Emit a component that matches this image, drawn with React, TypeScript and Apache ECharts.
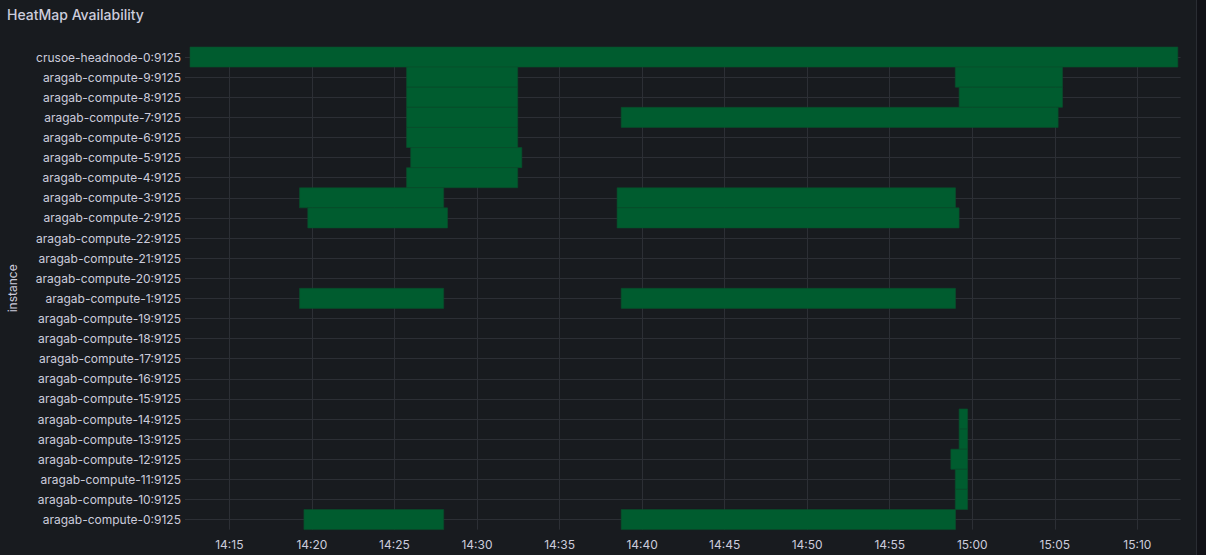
import React, { useEffect, useRef } from "react";
import * as echarts from "echarts";

// Instances, top to bottom as shown
const instances: string[] = [
  "crusoe-headnode-0:9125",
  "aragab-compute-9:9125",
  "aragab-compute-8:9125",
  "aragab-compute-7:9125",
  "aragab-compute-6:9125",
  "aragab-compute-5:9125",
  "aragab-compute-4:9125",
  "aragab-compute-3:9125",
  "aragab-compute-2:9125",
  "aragab-compute-22:9125",
  "aragab-compute-21:9125",
  "aragab-compute-20:9125",
  "aragab-compute-1:9125",
  "aragab-compute-19:9125",
  "aragab-compute-18:9125",
  "aragab-compute-17:9125",
  "aragab-compute-16:9125",
  "aragab-compute-15:9125",
  "aragab-compute-14:9125",
  "aragab-compute-13:9125",
  "aragab-compute-12:9125",
  "aragab-compute-11:9125",
  "aragab-compute-10:9125",
  "aragab-compute-0:9125",
];

// Availability intervals: [instance, start, end]
const upIntervals: [string, string, string][] = [
  ["crusoe-headnode-0:9125", "14:12:37", "15:12:27"],
  ["aragab-compute-9:9125", "14:25:44", "14:32:28"],
  ["aragab-compute-9:9125", "14:58:58", "15:05:28"],
  ["aragab-compute-8:9125", "14:25:44", "14:32:28"],
  ["aragab-compute-8:9125", "14:59:12", "15:05:28"],
  ["aragab-compute-7:9125", "14:25:44", "14:32:28"],
  ["aragab-compute-7:9125", "14:38:44", "15:05:12"],
  ["aragab-compute-6:9125", "14:25:44", "14:32:28"],
  ["aragab-compute-5:9125", "14:25:59", "14:32:43"],
  ["aragab-compute-4:9125", "14:25:44", "14:32:28"],
  ["aragab-compute-3:9125", "14:19:15", "14:27:59"],
  ["aragab-compute-3:9125", "14:38:29", "14:58:59"],
  ["aragab-compute-2:9125", "14:19:45", "14:28:13"],
  ["aragab-compute-2:9125", "14:38:29", "14:59:12"],
  ["aragab-compute-1:9125", "14:19:15", "14:27:59"],
  ["aragab-compute-1:9125", "14:38:44", "14:58:59"],
  ["aragab-compute-14:9125", "14:59:12", "14:59:43"],
  ["aragab-compute-13:9125", "14:59:12", "14:59:43"],
  ["aragab-compute-12:9125", "14:58:42", "14:59:43"],
  ["aragab-compute-11:9125", "14:58:58", "14:59:43"],
  ["aragab-compute-10:9125", "14:58:58", "14:59:43"],
  ["aragab-compute-0:9125", "14:19:31", "14:27:59"],
  ["aragab-compute-0:9125", "14:38:44", "14:58:59"],
];

const timeRange: [string, string] = ["14:12:37", "15:12:37"];
const tickTimes: string[] = [
  "14:15", "14:20", "14:25", "14:30", "14:35", "14:40",
  "14:45", "14:50", "14:55", "15:00", "15:05", "15:10",
];

// seconds since midnight
const toSec = (s: string): number => {
  const [h, m, sec] = s.split(":").map(Number);
  return h * 3600 + m * 60 + (sec || 0);
};

const pad = (n: number) => (n < 10 ? "0" + n : "" + n);
const fmt = (v: number) => {
  const h = Math.floor(v / 3600);
  const m = Math.round((v - h * 3600) / 60);
  return pad(h) + ":" + pad(m);
};

export default function App() {
  const ref = useRef<HTMLDivElement>(null);

  useEffect(() => {
    if (!ref.current) return;
    const chart = echarts.init(ref.current, null, { renderer: "svg" });
    const font = "Inter, 'Noto Sans', sans-serif";
    const textColor = "#ccccdc";
    const gridColor = "#2c2f35";

    const data = upIntervals.map(([inst, s, e]) => [
      instances.indexOf(inst),
      toSec(s),
      toSec(e),
    ]);
    const ticks = tickTimes.map((t) => toSec(t));

    chart.setOption({
      animation: false,
      backgroundColor: "#181b1f",
      title: {
        text: "HeatMap Availability",
        left: 2,
        top: 2,
        textStyle: {
          color: textColor,
          fontSize: 14,
          fontWeight: 500,
          fontFamily: font,
        },
      },
      graphic: [
        {
          type: "line",
          shape: { x1: 1196.5, y1: 0, x2: 1196.5, y2: 555 },
          style: { stroke: "#2a2d33", lineWidth: 1 },
          silent: true,
        },
        {
          type: "rect",
          shape: { x: 1197, y: 0, width: 9, height: 555 },
          style: { fill: "#111217" },
          silent: true,
        },
      ],
      grid: {
        left: 190,
        top: 47,
        right: 25.4,
        bottom: 25.4,
        containLabel: false,
        outerBoundsMode: "none",
      },
      xAxis: {
        type: "value",
        min: toSec(timeRange[0]),
        max: toSec(timeRange[1]),
        axisLine: { show: false },
        axisTick: { show: false, customValues: ticks },
        splitLine: { show: true, lineStyle: { color: gridColor, width: 1 } },
        axisLabel: {
          customValues: ticks,
          color: textColor,
          fontSize: 12,
          fontFamily: font,
          margin: 9,
          hideOverlap: false,
          showMinLabel: true,
          showMaxLabel: true,
          formatter: (v: number) => fmt(v),
        },
      },
      yAxis: {
        type: "category",
        data: instances,
        inverse: true,
        name: "instance",
        nameLocation: "middle",
        nameGap: 172,
        nameRotate: 90,
        nameTextStyle: { color: textColor, fontSize: 12, fontFamily: font },
        axisLine: { show: false },
        axisTick: {
          show: true,
          alignWithLabel: true,
          length: 5,
          lineStyle: { color: gridColor },
        },
        splitLine: {
          show: true,
          alignWithLabel: true,
          lineStyle: { color: gridColor, width: 1 },
        },
        axisLabel: {
          color: textColor,
          fontSize: 12,
          fontFamily: font,
          margin: 9,
          interval: 0,
        },
      },
      series: [
        {
          type: "custom",
          encode: { x: [1, 2], y: 0 },
          data,
          renderItem: (params: any, api: any) => {
            const row = api.value(0);
            const s = api.coord([api.value(1), row]);
            const e = api.coord([api.value(2), row]);
            const h = api.size([0, 1])[1];
            return {
              type: "rect",
              shape: { x: s[0], y: s[1] - h / 2, width: e[0] - s[0], height: h },
              style: { fill: "#005c2f", stroke: "#0a4d2b", lineWidth: 0.6 },
            };
          },
        },
      ],
    });

    return () => chart.dispose();
  }, []);

  return (
    <div
      ref={ref}
      style={{ position: "fixed", left: 0, top: 0, width: 1206, height: 555 }}
    />
  );
}
